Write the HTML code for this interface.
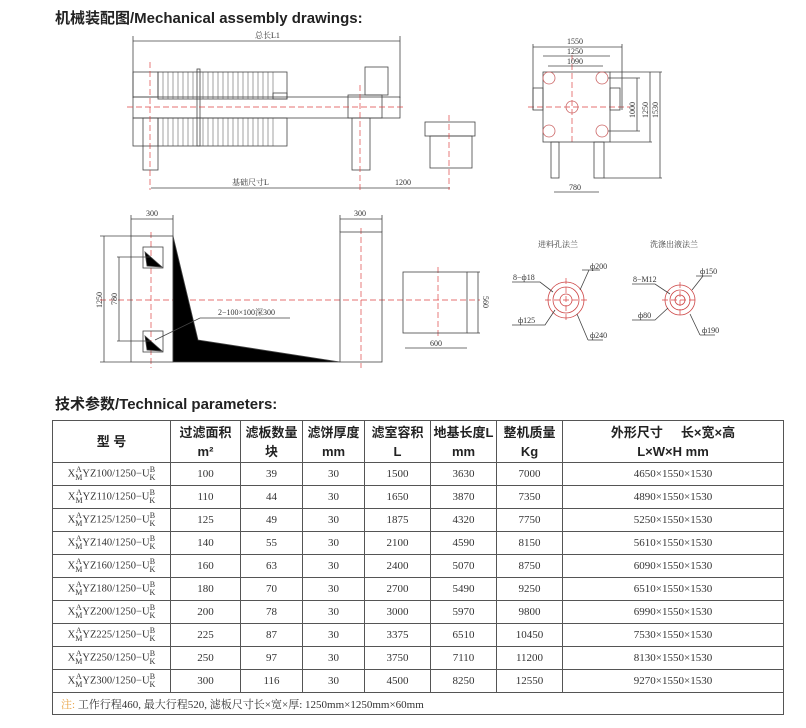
<!DOCTYPE html>
<html><head><meta charset="utf-8"><style>
body{margin:0;width:806px;height:728px;background:#fff;position:relative;overflow:hidden;font-family:"Liberation Serif","Noto Serif CJK SC",serif;}
.t{position:absolute;font-family:"Liberation Sans","Noto Sans CJK SC",sans-serif;font-weight:bold;color:#222;}
table{position:absolute;left:52px;top:420px;border-collapse:collapse;table-layout:fixed;}
td{border:1px solid #555;text-align:center;font-size:11px;color:#333;padding:0;height:22px;font-family:"Liberation Serif","Noto Serif CJK SC",serif;}
tr.h td{height:41px;font-family:"Liberation Sans","Noto Sans CJK SC",sans-serif;font-weight:bold;font-size:13px;color:#222;line-height:19px;}
.m{font-size:10.5px;white-space:nowrap;}
.s{display:inline-block;vertical-align:middle;font-size:8px;line-height:8px;text-align:center;}
</style></head><body>
<div class="t" style="left:55px;top:7px;font-size:15px;">机械装配图/Mechanical assembly drawings:</div>
<svg width="806" height="400" style="position:absolute;left:0;top:0" font-family="Liberation Serif,Noto Serif CJK SC,serif" font-size="8" fill="none" stroke="#444" stroke-width="0.8">
<!-- top-left -->
<line x1="133" y1="41" x2="400" y2="41"/><line x1="133" y1="36" x2="133" y2="98"/><line x1="400" y1="36" x2="400" y2="98"/>
<text x="255" y="38" fill="#333" stroke="none">总长L1</text>
<rect x="133" y="97" width="267" height="21"/>
<rect x="133" y="72" width="25" height="25"/><rect x="133" y="118" width="25" height="28"/>
<rect x="158" y="72" width="129" height="27"/><rect x="158" y="118" width="129" height="28"/>
<g stroke-width="0.5">
<path d="M163 72v27M168 72v27M173 72v27M178 72v27M183 72v27M188 72v27M193 72v27M203 72v27M208 72v27M213 72v27M218 72v27M223 72v27M228 72v27M233 72v27M238 72v27M243 72v27M248 72v27M253 72v27M258 72v27M263 72v27M268 72v27M273 72v27"/>
<path d="M163 118v28M168 118v28M173 118v28M178 118v28M183 118v28M188 118v28M193 118v28M203 118v28M208 118v28M213 118v28M218 118v28M223 118v28M228 118v28M233 118v28M238 118v28M243 118v28M248 118v28M253 118v28M258 118v28M263 118v28M268 118v28M273 118v28"/></g>
<rect x="197" y="69" width="3" height="77"/>
<rect x="273" y="93" width="14" height="6"/>
<rect x="348" y="95" width="34" height="23"/><rect x="365" y="67" width="23" height="28"/>
<rect x="143" y="118" width="15" height="52"/><rect x="352" y="118" width="18" height="52"/>
<rect x="425" y="122" width="50" height="14"/><rect x="430" y="136" width="42" height="32"/>
<line x1="151" y1="188" x2="450" y2="188"/>
<text x="232" y="185" fill="#333" stroke="none">基础尺寸L</text><text x="395" y="185" fill="#333" stroke="none">1200</text>
<g stroke="#d44" stroke-dasharray="6,3" stroke-width="0.7">
<line x1="127" y1="107" x2="405" y2="107"/><line x1="150" y1="62" x2="150" y2="190"/><line x1="360" y1="85" x2="360" y2="190"/><line x1="449" y1="115" x2="449" y2="190"/>
<line x1="528" y1="107" x2="630" y2="107"/><line x1="572" y1="55" x2="572" y2="142"/>
<line x1="100" y1="300" x2="480" y2="300"/><line x1="151" y1="232" x2="151" y2="368"/><line x1="361" y1="228" x2="361" y2="368"/><line x1="438" y1="267" x2="438" y2="338"/>
<line x1="545" y1="300" x2="588" y2="300"/><line x1="566" y1="278" x2="566" y2="322"/>
<line x1="662" y1="300" x2="698" y2="300"/><line x1="680" y1="282" x2="680" y2="318"/>
</g>
<!-- top-right -->
<line x1="533" y1="47" x2="622" y2="47"/><line x1="543" y1="56" x2="610" y2="56"/><line x1="548" y1="66" x2="603" y2="66"/>
<line x1="533" y1="44" x2="533" y2="110"/><line x1="622" y1="44" x2="622" y2="110"/>
<text x="567" y="44" fill="#333" stroke="none">1550</text><text x="567" y="54" fill="#333" stroke="none">1250</text><text x="567" y="64" fill="#333" stroke="none">1090</text>
<rect x="543" y="72" width="67" height="70"/>
<rect x="533" y="88" width="10" height="22"/><rect x="610" y="88" width="10" height="22"/>
<g stroke="#c66"><circle cx="549" cy="78" r="6"/><circle cx="602" cy="78" r="6"/><circle cx="572" cy="107" r="6"/><circle cx="549" cy="131" r="6"/><circle cx="602" cy="131" r="6"/></g>
<rect x="551" y="142" width="8" height="36"/><rect x="594" y="142" width="10" height="36"/>
<path d="M610 72H662M610 142H652M604 178H662M608 78H640M608 131H640"/>
<line x1="637" y1="78" x2="637" y2="131"/><line x1="650" y1="72" x2="650" y2="142"/><line x1="660" y1="72" x2="660" y2="178"/>
<g fill="#333" stroke="none"><text transform="translate(635,118) rotate(-90)">1000</text><text transform="translate(648,118) rotate(-90)">1250</text><text transform="translate(658,118) rotate(-90)">1530</text></g>
<line x1="554" y1="192" x2="599" y2="192"/><text x="569" y="190" fill="#333" stroke="none">780</text>
<!-- middle -->
<line x1="131" y1="219" x2="173" y2="219"/><line x1="131" y1="215" x2="131" y2="236"/><line x1="173" y1="215" x2="173" y2="236"/>
<text x="146" y="216" fill="#333" stroke="none">300</text>
<rect x="131" y="236" width="42" height="126"/>
<polygon points="173,236 198,340 340,362 173,362" fill="#000"/>
<rect x="143" y="247" width="20" height="21"/><rect x="143" y="331" width="20" height="21"/>
<polygon points="145,252 147,266 162,267" fill="#000"/><polygon points="145,336 147,350 162,351" fill="#000"/>
<line x1="104" y1="236" x2="104" y2="362"/><line x1="100" y1="236" x2="131" y2="236"/><line x1="100" y1="362" x2="131" y2="362"/>
<line x1="119" y1="257" x2="119" y2="341"/><line x1="117" y1="257" x2="150" y2="257"/><line x1="117" y1="341" x2="150" y2="341"/>
<g fill="#333" stroke="none"><text transform="translate(102,308) rotate(-90)">1250</text><text transform="translate(117,305) rotate(-90)">780</text></g>
<path d="M155 340L200 318H290"/><text x="218" y="315" fill="#333" stroke="none">2−100×100深300</text>
<rect x="340" y="232" width="42" height="130"/><line x1="340" y1="219" x2="382" y2="219"/><line x1="340" y1="215" x2="340" y2="232"/><line x1="382" y1="215" x2="382" y2="232"/>
<text x="354" y="216" fill="#333" stroke="none">300</text>
<rect x="403" y="272" width="64" height="61"/><line x1="467" y1="272" x2="480" y2="272"/><line x1="467" y1="333" x2="480" y2="333"/>
<line x1="478" y1="272" x2="478" y2="333"/><text transform="translate(483,296) rotate(90)" fill="#333" stroke="none">560</text>
<line x1="405" y1="348" x2="467" y2="348"/><text x="430" y="346" fill="#333" stroke="none">600</text>
<!-- flanges -->
<text x="538" y="247" fill="#333" stroke="none">进料孔法兰</text><text x="650" y="247" fill="#333" stroke="none">洗涤出液法兰</text>
<g stroke="#c44"><circle cx="566" cy="300" r="18"/><circle cx="566" cy="300" r="13"/><circle cx="566" cy="300" r="6"/>
<circle cx="680" cy="300" r="15"/><circle cx="680" cy="300" r="10"/><circle cx="680" cy="300" r="5"/></g>
<path d="M512 282H540L553 292M582 270H600M589 270L580 290M512 325H545L555 310M588 340L577 314M603 340H588"/>
<path d="M632 284H655L670 294M696 276H712M703 276L692 290M632 320H655L668 308M700 335L690 314M715 335H700"/>
<g fill="#333" stroke="none"><text x="513" y="280">8−ф18</text><text x="590" y="269">ф200</text><text x="518" y="323">ф125</text><text x="590" y="338">ф240</text>
<text x="633" y="282">8−M12</text><text x="700" y="274">ф150</text><text x="638" y="318">ф80</text><text x="702" y="333">ф190</text></g>
</svg>
<div class="t" style="left:55px;top:393px;font-size:15px;">技术参数/Technical parameters:</div>
<table>
<colgroup><col style="width:118px"><col style="width:70px"><col style="width:62px"><col style="width:62px"><col style="width:66px"><col style="width:66px"><col style="width:66px"><col style="width:221px"></colgroup>
<tr class="h"><td>型 号</td><td>过滤面积<br>m²</td><td>滤板数量<br>块</td><td>滤饼厚度<br>mm</td><td>滤室容积<br>L</td><td>地基长度L<br>mm</td><td>整机质量<br>Kg</td><td>外形尺寸 &nbsp; &nbsp; 长×宽×高<br>L×W×H mm</td></tr>
<tr><td class="m">X<span class="s">A<br>M</span>YZ100/1250−U<span class="s">B<br>K</span></td><td>100</td><td>39</td><td>30</td><td>1500</td><td>3630</td><td>7000</td><td>4650×1550×1530</td></tr>
<tr><td class="m">X<span class="s">A<br>M</span>YZ110/1250−U<span class="s">B<br>K</span></td><td>110</td><td>44</td><td>30</td><td>1650</td><td>3870</td><td>7350</td><td>4890×1550×1530</td></tr>
<tr><td class="m">X<span class="s">A<br>M</span>YZ125/1250−U<span class="s">B<br>K</span></td><td>125</td><td>49</td><td>30</td><td>1875</td><td>4320</td><td>7750</td><td>5250×1550×1530</td></tr>
<tr><td class="m">X<span class="s">A<br>M</span>YZ140/1250−U<span class="s">B<br>K</span></td><td>140</td><td>55</td><td>30</td><td>2100</td><td>4590</td><td>8150</td><td>5610×1550×1530</td></tr>
<tr><td class="m">X<span class="s">A<br>M</span>YZ160/1250−U<span class="s">B<br>K</span></td><td>160</td><td>63</td><td>30</td><td>2400</td><td>5070</td><td>8750</td><td>6090×1550×1530</td></tr>
<tr><td class="m">X<span class="s">A<br>M</span>YZ180/1250−U<span class="s">B<br>K</span></td><td>180</td><td>70</td><td>30</td><td>2700</td><td>5490</td><td>9250</td><td>6510×1550×1530</td></tr>
<tr><td class="m">X<span class="s">A<br>M</span>YZ200/1250−U<span class="s">B<br>K</span></td><td>200</td><td>78</td><td>30</td><td>3000</td><td>5970</td><td>9800</td><td>6990×1550×1530</td></tr>
<tr><td class="m">X<span class="s">A<br>M</span>YZ225/1250−U<span class="s">B<br>K</span></td><td>225</td><td>87</td><td>30</td><td>3375</td><td>6510</td><td>10450</td><td>7530×1550×1530</td></tr>
<tr><td class="m">X<span class="s">A<br>M</span>YZ250/1250−U<span class="s">B<br>K</span></td><td>250</td><td>97</td><td>30</td><td>3750</td><td>7110</td><td>11200</td><td>8130×1550×1530</td></tr>
<tr><td class="m">X<span class="s">A<br>M</span>YZ300/1250−U<span class="s">B<br>K</span></td><td>300</td><td>116</td><td>30</td><td>4500</td><td>8250</td><td>12550</td><td>9270×1550×1530</td></tr>
<tr><td colspan="8" style="text-align:left;padding-left:8px;height:21px;"><span style="color:#e8a040">注:</span> 工作行程460, 最大行程520, 滤板尺寸长×宽×厚: 1250mm×1250mm×60mm</td></tr>
</table>
</body></html>
